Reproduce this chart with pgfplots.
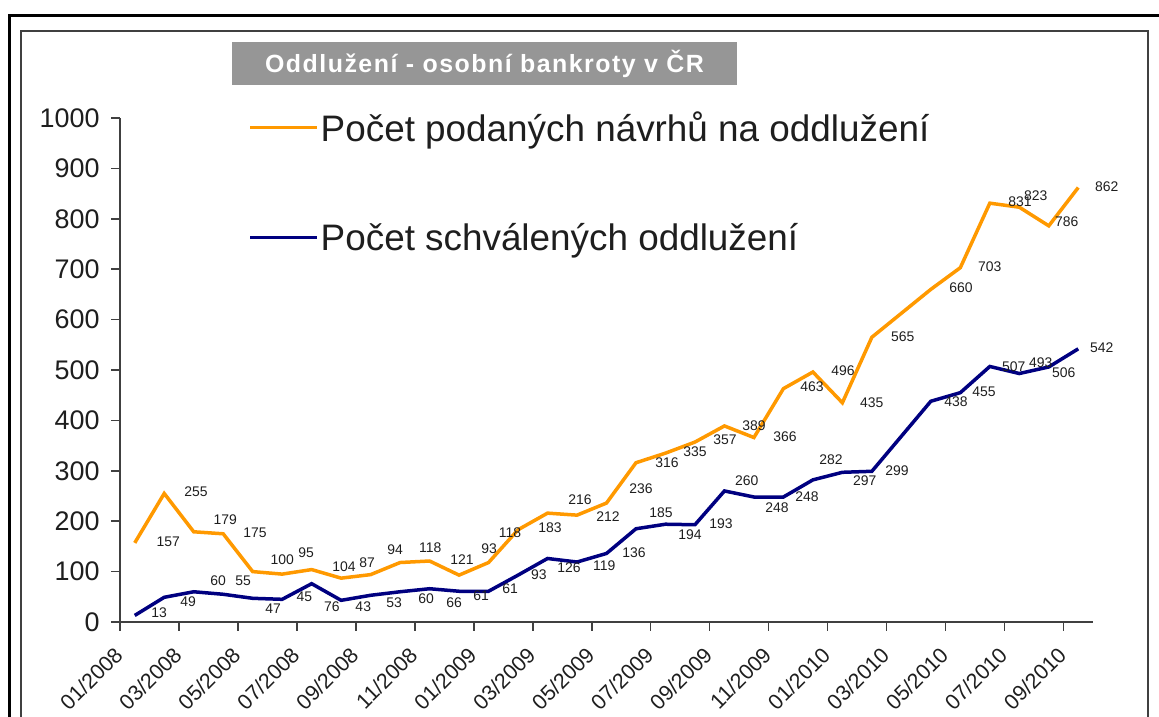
\documentclass[border=0pt]{standalone}
\usepackage{fontspec}
\setmainfont{Liberation Sans}
\usepackage{pgfplots}
\pgfplotsset{compat=1.18}
\usepackage{pgfplotstable}

\definecolor{orangeline}{RGB}{255,153,0}
\definecolor{navyline}{RGB}{0,0,128}
\definecolor{titlegray}{RGB}{150,150,150}
\definecolor{axisgray}{RGB}{64,64,64}
\definecolor{textdark}{RGB}{30,30,30}

% month index (1 = 01/2008) and value
\pgfplotstableread{
x y
1 157
2 255
3 179
4 175
5 100
6 95
7 104
8 87
9 94
10 118
11 121
12 93
13 118
14 183
15 216
16 212
17 236
18 316
19 335
20 357
21 389
22 366
23 463
24 496
25 435
26 565
28 660
29 703
30 831
31 823
32 786
33 862
}\podane

\pgfplotstableread{
x y
1 13
2 49
3 60
4 55
5 47
6 45
7 76
8 43
9 53
10 60
11 66
12 61
13 61
14 93
15 126
16 119
17 136
18 185
19 194
20 193
21 260
22 248
23 248
24 282
25 297
26 299
28 438
29 455
30 507
31 493
32 506
33 542
}\schvalene

% data label positions (as placed in the original chart)
\pgfplotstableread{
x y t
2.14 159 157
3.08 258 255
4.07 202 179
5.08 177 175
6.00 123 100
6.81 137 95
8.10 109 104
8.88 117 87
9.83 143 94
11.02 147 118
12.10 123 121
13.02 145 93
13.73 177 118
15.08 187 183
16.10 242 216
17.05 210 212
18.17 264 236
19.05 317 316
20.00 337 335
21.02 361 357
22.00 389 389
23.05 367 366
23.97 466 463
25.02 498 496
26.00 435 435
27.05 567 565
29.02 663 660
30.00 704 703
31.02 833 831
31.56 845 823
32.61 794 786
33.97 863 862
}\podanelab

\pgfplotstableread{
x y t
1.83 18 13
2.81 40 49
3.83 81 60
4.68 81 55
5.69 26 47
6.75 50 45
7.69 30 76
8.75 30 43
9.80 38 53
10.88 46 60
11.83 38 66
12.75 52 61
13.73 67 61
14.71 93 93
15.73 107 126
16.92 111 119
17.93 137 136
18.85 216 185
19.83 173 194
20.88 196 193
21.76 280 260
22.78 226 248
23.80 248 248
24.61 323 282
25.76 280 297
26.85 300 299
28.85 438 438
29.80 456 455
30.81 506 507
31.73 514 493
32.51 494 506
33.80 544 542
}\schvalenelab

\begin{document}
\begin{tikzpicture}
\useasboundingbox (0,0) rectangle (1159bp,717bp);
% frames
\draw[line width=3bp, black] (9bp,0bp) -- (9bp,701bp) -- (1159bp,701bp);
\draw[line width=1.5bp, axisgray] (21bp,0bp) -- (21bp,686bp) -- (1148bp,686bp) -- (1148bp,0bp);
% title box
\node[fill=titlegray, minimum width=505bp, minimum height=43bp, inner sep=0pt,
      text=white, font=\bfseries\fontsize{25}{25}\selectfont\addfontfeature{LetterSpace=6}]
  at (484.5bp,653.5bp) {Oddlužení - osobní bankroty v ČR};

\begin{axis}[
  at={(120bp,95bp)}, anchor=south west,
  scale only axis, width=973bp, height=504bp,
  xmin=0.5, xmax=33.5, ymin=0, ymax=1000,
  clip=false,
  axis x line*=bottom, axis y line*=left,
  axis line style={-, line width=1.8bp, axisgray},
  tick style={line width=1.5bp, axisgray},
  tick align=outside, major tick length=9bp,
  xtick={0.5,2.5,...,32.5},
  xticklabels={01/2008,03/2008,05/2008,07/2008,09/2008,11/2008,01/2009,03/2009,05/2009,07/2009,09/2009,11/2009,01/2010,03/2010,05/2010,07/2010,09/2010},
  ytick={0,100,...,1000},
  /pgf/number format/assume math mode=true,
  /pgf/number format/1000 sep={},
  xticklabel style={xshift=-7bp, yshift=-13bp, rotate=45, anchor=north east, inner sep=1bp, font=\fontsize{21.5}{21.5}\selectfont, text=textdark},
  yticklabel style={font=\fontsize{27}{27}\selectfont, text=textdark, xshift=-8bp},
  legend style={at={(0.1316,1.016)}, anchor=north west, draw=none, fill=none,
    font=\fontsize{37}{37}\selectfont, row sep=76bp, inner sep=0pt, text=textdark},
  legend cell align=left,
  legend image code/.code={\draw[#1, line width=3.5bp] (0bp,0bp) -- (67bp,0bp);},
]
\addplot[orangeline, line width=3.5bp, mark=none] table[x=x,y=y] {\podane};
\addlegendentry{Počet podaných návrhů na oddlužení}
\addplot[navyline, line width=3.5bp, mark=none] table[x=x,y=y] {\schvalene};
\addlegendentry{Počet schválených oddlužení}

\addplot[forget plot, draw=none, mark=none, nodes near coords, point meta=explicit symbolic,
  nodes near coords style={anchor=center, inner sep=0pt, font=\fontsize{14}{14}\selectfont, text=textdark}]
  table[x=x,y=y,meta=t] {\podanelab};
\addplot[forget plot, draw=none, mark=none, nodes near coords, point meta=explicit symbolic,
  nodes near coords style={anchor=center, inner sep=0pt, font=\fontsize{14}{14}\selectfont, text=textdark}]
  table[x=x,y=y,meta=t] {\schvalenelab};
\end{axis}
\end{tikzpicture}
\end{document}
